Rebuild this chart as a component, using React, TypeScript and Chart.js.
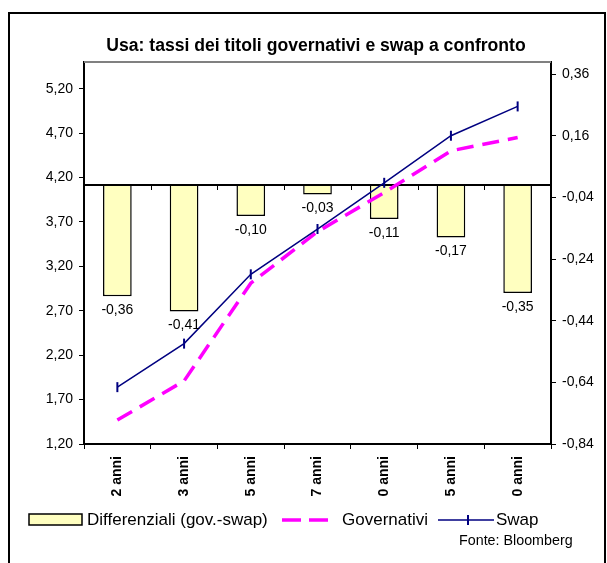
import React, { useEffect, useRef } from "react";
import { Chart, registerables } from "chart.js";

Chart.register(...registerables);

const categories = ["2 anni", "3 anni", "5 anni", "7 anni", "0 anni", "5 anni", "0 anni"];
const differenziali = [-0.36, -0.41, -0.1, -0.03, -0.11, -0.17, -0.35];
const governativi = [1.47, 1.91, 3.01, 3.59, 4.03, 4.5, 4.65];
const swap = [1.84, 2.33, 3.11, 3.62, 4.14, 4.67, 5.0];
const leftTicks = [1.2, 1.7, 2.2, 2.7, 3.2, 3.7, 4.2, 4.7, 5.2];
const rightTicks = [-0.84, -0.64, -0.44, -0.24, -0.04, 0.16, 0.36];

const titleText = "Usa: tassi dei titoli governativi e swap a confronto";
const sourceText = "Fonte: Bloomberg";
const legendLabels = ["Differenziali (gov.-swap)", "Governativi", "Swap"];

const FAMILY = "'Liberation Sans', Arial, Helvetica, sans-serif";
const BAR_FILL = "#FFFFC0";
const GOV_COLOR = "#FF00FF";
const SWAP_COLOR = "#000080";
const GOV_DASH = [17, 9];

const fmt = (v: number) => v.toFixed(2).replace(".", ",");

const decorPlugin = {
  id: "decor",
  beforeDraw(chart: any) {
    const { ctx, width, height } = chart;
    ctx.save();
    ctx.fillStyle = "#fff";
    ctx.fillRect(0, 0, width, height);
    ctx.strokeStyle = "#000";
    ctx.lineWidth = 2;
    ctx.strokeRect(9, 13, 596, 600);
    ctx.restore();
  },
  beforeDatasetsDraw(chart: any) {
    const { ctx, chartArea } = chart;
    ctx.save();
    ctx.strokeStyle = "#808080";
    ctx.lineWidth = 2;
    ctx.beginPath();
    ctx.moveTo(chartArea.left, chartArea.top);
    ctx.lineTo(chartArea.right, chartArea.top);
    ctx.stroke();
    ctx.restore();
  },
  afterDatasetDraw(chart: any, args: any) {
    if (args.index !== 0) return;
    const { ctx, chartArea, scales } = chart;
    const y0 = Math.round(scales.y1.getPixelForValue(0));
    ctx.save();
    ctx.strokeStyle = "#000";
    ctx.lineWidth = 2;
    ctx.beginPath();
    ctx.moveTo(chartArea.left, y0);
    ctx.lineTo(chartArea.right, y0);
    ctx.stroke();
    ctx.lineWidth = 1;
    const n = categories.length;
    const step = (chartArea.right - chartArea.left) / n;
    ctx.beginPath();
    for (let i = 1; i < n; i++) {
      const x = Math.round(chartArea.left + step * i) + 0.5;
      ctx.moveTo(x, y0);
      ctx.lineTo(x, y0 + 5);
    }
    ctx.stroke();
    ctx.restore();
  },
  afterDatasetsDraw(chart: any) {
    const { ctx } = chart;
    const meta = chart.getDatasetMeta(0);
    ctx.save();
    ctx.fillStyle = "#000";
    ctx.font = `14px ${FAMILY}`;
    ctx.textAlign = "center";
    ctx.textBaseline = "middle";
    meta.data.forEach((el: any, i: number) => {
      ctx.fillText(fmt(differenziali[i]), el.x, el.y + 14);
    });
    ctx.restore();
  },
  afterDraw(chart: any) {
    const { ctx } = chart;
    ctx.save();
    // title
    ctx.fillStyle = "#000";
    ctx.font = `bold 17.6px ${FAMILY}`;
    ctx.textAlign = "center";
    ctx.textBaseline = "middle";
    ctx.fillText(titleText, 316, 46);

    // legend
    const ly = 520;
    ctx.fillStyle = BAR_FILL;
    ctx.fillRect(29, 514, 53, 11);
    ctx.strokeStyle = "#000";
    ctx.lineWidth = 1.5;
    ctx.strokeRect(29, 514, 53, 11);

    ctx.font = `17px ${FAMILY}`;
    ctx.textAlign = "left";
    ctx.fillStyle = "#000";
    ctx.fillText(legendLabels[0], 87, ly);

    ctx.strokeStyle = GOV_COLOR;
    ctx.lineWidth = 3.5;
    ctx.setLineDash([19, 8]);
    ctx.beginPath();
    ctx.moveTo(282, ly);
    ctx.lineTo(333, ly);
    ctx.stroke();
    ctx.setLineDash([]);
    ctx.fillStyle = "#000";
    ctx.fillText(legendLabels[1], 342, ly);

    ctx.strokeStyle = SWAP_COLOR;
    ctx.lineWidth = 1.5;
    ctx.beginPath();
    ctx.moveTo(438, ly);
    ctx.lineTo(494, ly);
    ctx.stroke();
    ctx.lineWidth = 2;
    ctx.beginPath();
    ctx.moveTo(468, ly - 5);
    ctx.lineTo(468, ly + 5);
    ctx.stroke();
    ctx.fillStyle = "#000";
    ctx.fillText(legendLabels[2], 496, ly);

    ctx.font = `14.3px ${FAMILY}`;
    ctx.fillText(sourceText, 459, 541);
    ctx.restore();
  },
};

export default function App() {
  const ref = useRef<HTMLCanvasElement | null>(null);

  useEffect(() => {
    if (!ref.current) return;
    const chart = new Chart(ref.current, {
      type: "bar",
      data: {
        labels: categories,
        datasets: [
          {
            type: "bar",
            label: legendLabels[0],
            data: differenziali,
            yAxisID: "y1",
            backgroundColor: BAR_FILL,
            borderColor: "#000",
            borderWidth: 1.5,
            categoryPercentage: 1,
            barPercentage: 0.43,
            order: 3,
          },
          {
            type: "line",
            label: legendLabels[1],
            data: governativi,
            yAxisID: "y",
            borderColor: GOV_COLOR,
            borderWidth: 3.5,
            borderDash: GOV_DASH,
            pointRadius: 0,
            tension: 0,
            order: 2,
          },
          {
            type: "line",
            label: legendLabels[2],
            data: swap,
            yAxisID: "y",
            borderColor: SWAP_COLOR,
            borderWidth: 1.5,
            pointStyle: "line",
            rotation: 90,
            pointRadius: 5,
            pointBorderWidth: 2,
            pointBorderColor: SWAP_COLOR,
            tension: 0,
            order: 1,
          },
        ] as any,
      },
      options: {
        responsive: false,
        animation: false,
        events: [],
        layout: { padding: { top: 62, left: 0, right: 0, bottom: 0 } },
        plugins: {
          legend: { display: false },
          title: { display: false },
          tooltip: { enabled: false },
        },
        scales: {
          x: {
            type: "category",
            offset: true,
            grid: { offset: true, drawOnChartArea: false, tickLength: 5, color: "#000", lineWidth: 1 },
            border: { color: "#000", width: 2 },
            ticks: {
              minRotation: 90,
              maxRotation: 90,
              autoSkip: false,
              padding: 7,
              color: "#000",
              font: { family: FAMILY, size: 14, weight: "bold" },
            },
            afterFit: (s: any) => {
              s.height = 119;
            },
          },
          y: {
            type: "linear",
            position: "left",
            min: 1.2,
            max: 5.5,
            grid: { drawOnChartArea: false, tickLength: 5, color: "#000", lineWidth: 1 },
            border: { color: "#000", width: 2 },
            ticks: {
              padding: 6,
              color: "#000",
              font: { family: FAMILY, size: 14 },
              callback: (v: any) => fmt(Number(v)),
            },
            afterBuildTicks: (s: any) => {
              s.ticks = leftTicks.map((v) => ({ value: v }));
            },
            afterFit: (s: any) => {
              s.width = 84;
            },
          },
          y1: {
            type: "linear",
            position: "right",
            min: -0.84,
            max: 0.4,
            grid: { drawOnChartArea: false, tickLength: 5, color: "#000", lineWidth: 1 },
            border: { color: "#000", width: 2 },
            ticks: {
              padding: 6,
              color: "#000",
              font: { family: FAMILY, size: 14 },
              callback: (v: any) => fmt(Number(v)),
            },
            afterBuildTicks: (s: any) => {
              s.ticks = rightTicks.map((v) => ({ value: v }));
            },
            afterFit: (s: any) => {
              s.width = 56;
            },
          },
        },
      } as any,
      plugins: [decorPlugin],
    });
    return () => chart.destroy();
  }, []);

  return (
    <div style={{ position: "absolute", left: 0, top: 0, width: 607, height: 563 }}>
      <canvas ref={ref} width={607} height={563} style={{ display: "block" }} />
    </div>
  );
}
